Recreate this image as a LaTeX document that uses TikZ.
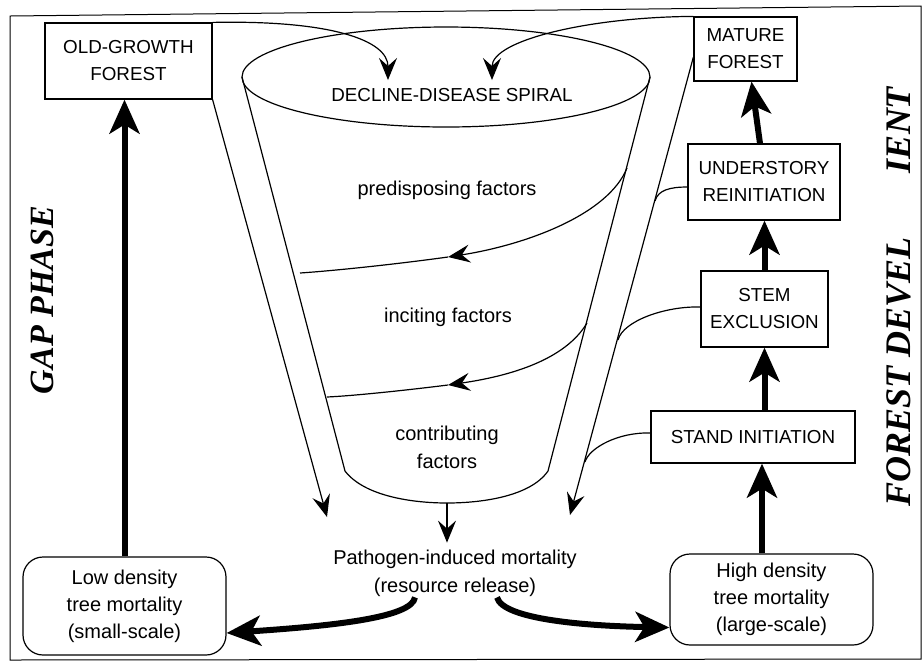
\documentclass[tikz,border=0pt]{standalone}
\usepackage{fontspec}
\setmainfont{Liberation Sans}
\newfontfamily\phasefont{Liberation Serif}
\usetikzlibrary{arrows.meta}
\tikzstyle{stage} = [draw, rectangle, align=center, inner sep=0pt, line width=0.6pt, font=\fontsize{9.4}{13.5}\selectfont]
\tikzstyle{mortbox} = [draw, rounded corners=10pt, align=center, inner sep=0pt, line width=0.6pt, font=\fontsize{10}{13.5}\selectfont]
\tikzstyle{factor} = [align=center, font=\fontsize{10}{14}\selectfont]
\tikzstyle{flow} = [line width=0.6pt, -{Stealth[length=11pt, width=9pt, inset=4pt]}]
\tikzstyle{heavy} = [line width=3pt, -{Stealth[length=17pt, width=15pt, inset=4.5pt]}]
\tikzstyle{phase} = [rotate=90, font=\phasefont\bfseries\itshape\fontsize{18}{18}\selectfont]

\begin{document}
\begin{tikzpicture}[x=0.5pt, y=-0.5pt]

	\useasboundingbox (0,0) rectangle (923,661);
	\draw[line width=0.5pt] (10,16) -- (921,6) -- (921,659) -- (10,660) -- cycle;

	\node[phase, font=\phasefont\bfseries\itshape\fontsize{17}{17}\selectfont] (gap) at (42,300) {GAP PHASE};
	\node[phase] (devel) at (899,372) {FOREST DEVEL};
	\node[phase] (ient) at (899,130) {IENT};

	\node[stage, minimum width=83.5pt, minimum height=38pt] (oldgrowth) at (128.5,61) {OLD-GROWTH\\FOREST};
	\node[stage, minimum width=51.5pt, minimum height=32pt] (mature) at (745.5,49) {MATURE\\FOREST};
	\node[stage, minimum width=76pt, minimum height=38pt] (understory) at (764,182) {UNDERSTORY\\REINITIATION};
	\node[stage, minimum width=63.5pt, minimum height=38pt] (stem) at (764.5,309) {STEM\\EXCLUSION};
	\node[stage, minimum width=102pt, minimum height=26pt] (stand) at (753,437) {STAND INITIATION};
	\node[mortbox, minimum width=101.5pt, minimum height=45.5pt] (high) at (771.5,599.5) {High density\\tree mortality\\(large-scale)};
	\node[mortbox, minimum width=101.5pt, minimum height=49pt] (low) at (124.5,606) {Low density\\tree mortality\\(small-scale)};

	% funnel
	\coordinate (rimL) at (242,77);
	\coordinate (rimR) at (650,77);
	\coordinate (baseL) at (345,471);
	\coordinate (baseR) at (548,471);
	\coordinate (conebot) at (447,503);
	\draw[line width=0.6pt] (446,77) ellipse [x radius=204, y radius=50];
	\draw[line width=0.6pt] (rimL) -- (baseL) .. controls (365,497) and (415,503) .. (conebot) .. controls (480,503) and (530,497) .. (baseR) -- (rimR);

	\node[factor, font=\fontsize{9.4}{11}\selectfont] (spiral) at (452,95) {DECLINE-DISEASE SPIRAL};
	\node[factor] (predis) at (447,190) {predisposing factors};
	\node[factor] (inciting) at (448,317) {inciting factors};
	\node[factor] (contrib) at (447,447) {contributing\\factors};
	\node[factor] (pathogen) at (455,573) {Pathogen-induced mortality\\(resource release)};

	% spiral turns
	\coordinate (s1a) at (627,168);
	\coordinate (s1b) at (448,257);
	\coordinate (s1c) at (300,273);
	\draw[flow] (s1a) .. controls (608,215) and (525,245) .. (s1b);
	\draw[line width=0.6pt] (s1b) .. controls (390,265) and (330,271) .. (s1c);
	\coordinate (s2a) at (587,323);
	\coordinate (s2b) at (448,385);
	\coordinate (s2c) at (327,397);
	\draw[flow] (s2a) .. controls (565,360) and (510,376) .. (s2b);
	\draw[line width=0.6pt] (s2b) .. controls (400,391) and (350,396) .. (s2c);
	\draw[flow] (conebot) -- (conebot |- pathogen.north);

	% channels
	\coordinate (spiralL) at (388,80);
	\coordinate (spiralR) at (492,80);
	\draw[flow] (oldgrowth.north east) .. controls (330,20) and (388,40) .. (spiralL);
	\draw[flow] (mature.north west) .. controls (590,17) and (492,40) .. (spiralR);
	\coordinate (leftdrop) at (327,517);
	\coordinate (rightdrop) at (570,515);
	\draw[flow] (oldgrowth.south east) -- (leftdrop);
	\draw[flow] ([yshift=-4pt]mature.west) -- (rightdrop);

	\coordinate (j1) at (655,201);
	\coordinate (j2) at (618,340);
	\coordinate (j3) at (585,462);
	\draw[line width=0.6pt] ([yshift=-2.5pt]understory.west) .. controls (670,187) and (658,190) .. (j1);
	\draw[line width=0.6pt] ([yshift=1pt]stem.west) .. controls (665,306) and (623,321) .. (j2);
	\draw[line width=0.6pt] ([yshift=2pt]stand.west) .. controls (618,432) and (589,448) .. (j3);

	% succession
	\draw[heavy] (low.north) -- (low.north |- oldgrowth.south);
	\draw[heavy] ([xshift=-4.75pt]high.north) -- ([xshift=-4.75pt]high.north |- stand.south);
	\draw[heavy] (stem.south |- stand.north) -- (stem.south);
	\draw[heavy] (stem.north) -- (stem.north |- understory.south);
	\draw[heavy] ([xshift=-2pt]understory.north) -- ([xshift=3pt]mature.south);
	\draw[heavy] ([xshift=-20pt,yshift=3pt]pathogen.south) .. controls (412,618) and (330,626) .. ([yshift=-13.5pt]low.east);
	\draw[heavy] ([xshift=21pt,yshift=3pt]pathogen.south) .. controls (503,620) and (590,626) .. ([yshift=-14pt]high.west);

\end{tikzpicture}
\end{document}
